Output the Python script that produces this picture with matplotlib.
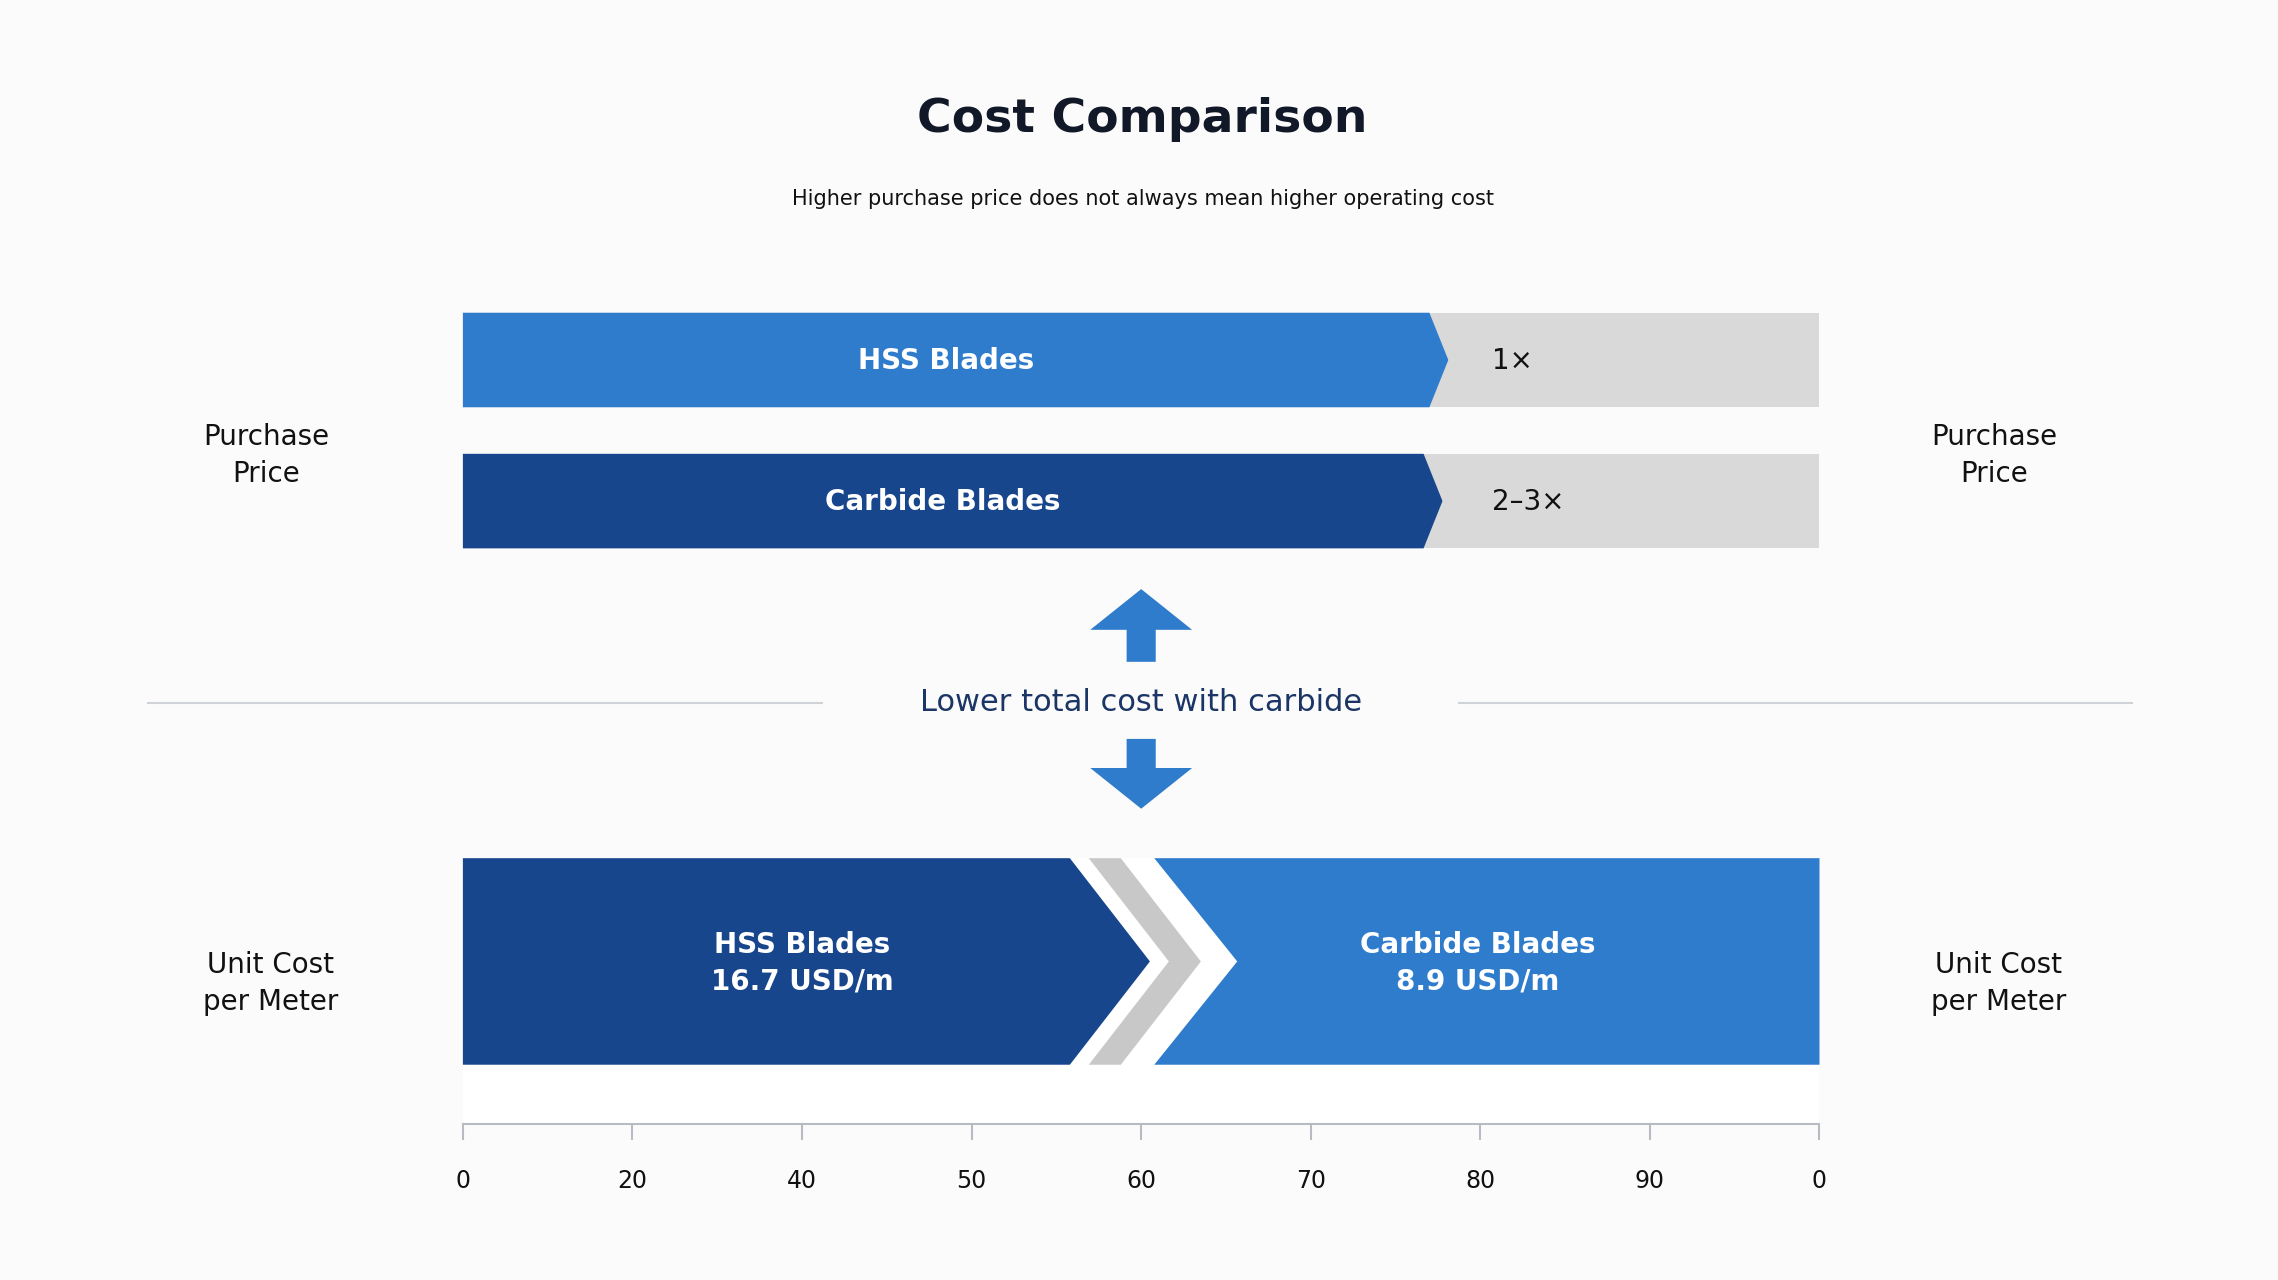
import matplotlib.pyplot as plt
from matplotlib.patches import Polygon, FancyArrow

# data
blades = ["HSS Blades", "Carbide Blades"]
price_mult = ["1×", "2–3×"]
unit_cost = [16.7, 8.9]
tick_labels = ["0", "20", "40", "50", "60", "70", "80", "90", "0"]

LIGHT = "#2f7ccc"
DARK = "#17468c"
GRAY = "#d9d9d9"
NAVY = "#1b3566"

W, H = 1565, 880
fig = plt.figure(figsize=(22.78, 12.8), dpi=100)
fig.patch.set_facecolor("#fbfbfb")
ax = fig.add_axes([0, 0, 1, 1])
ax.set_xlim(0, W)
ax.set_ylim(H, 0)
ax.axis("off")

def poly(pts, c):
    ax.add_patch(Polygon(pts, closed=True, facecolor=c, edgecolor="none"))

ax.text(785, 82, "Cost Comparison", ha="center", va="center", fontsize=34, weight="bold", color="#111827")
ax.text(785, 137, "Higher purchase price does not always mean higher operating cost",
        ha="center", va="center", fontsize=15, color="#111")

x0, x1 = 318, 1250
# purchase price bars
tops = [215, 312]
ends = [982, 978]
for top, end, name, mult, c in zip(tops, ends, blades, price_mult, [LIGHT, DARK]):
    bot = top + 65
    poly([(x0, top), (x1, top), (x1, bot), (x0, bot)], GRAY)
    poly([(x0, top), (end, top), (end + 13, top + 32.5), (end, bot), (x0, bot)], c)
    ax.text((x0 + end) / 2, top + 33, name, ha="center", va="center", fontsize=20,
            weight="bold", color="white")
    ax.text(1025, top + 33, mult, ha="left", va="center", fontsize=20, color="#111")

for x in (183, 1370):
    ax.text(x, 313, "Purchase\nPrice", ha="center", va="center", fontsize=20,
            color="#111", linespacing=1.4)
    ax.text(x + 3, 676, "Unit Cost\nper Meter", ha="center", va="center", fontsize=20,
            color="#111", linespacing=1.4)

# middle arrows and message
ax.add_patch(FancyArrow(784, 455, 0, -50, width=20, head_width=70, head_length=28,
                        length_includes_head=True, color=LIGHT, lw=0))
ax.add_patch(FancyArrow(784, 508, 0, 48, width=20, head_width=70, head_length=28,
                        length_includes_head=True, color=LIGHT, lw=0))
ax.text(784, 483, "Lower total cost with carbide", ha="center", va="center",
        fontsize=22, color=NAVY)
ax.plot([102, 565], [483, 483], color="#cfd3d8", lw=1.5)
ax.plot([1002, 1465], [483, 483], color="#cfd3d8", lw=1.5)

# unit cost bar
top, bot = 590, 732
mid = (top + bot) / 2
poly([(x0, top), (x1, top), (x1, 772), (x0, 772)], "white")
poly([(x0, top), (735, top), (790, mid), (735, bot), (x0, bot)], DARK)
poly([(748, top), (770, top), (825, mid), (770, bot), (748, bot), (803, mid)], "#c8c8c8")
poly([(793, top), (x1, top), (x1, bot), (793, bot), (850, mid)], LIGHT)
ax.text(551, 662, f"{blades[0]}\n{unit_cost[0]} USD/m", ha="center", va="center",
        fontsize=20, weight="bold", color="white", linespacing=1.4)
ax.text(1015, 662, f"{blades[1]}\n{unit_cost[1]} USD/m", ha="center", va="center",
        fontsize=20, weight="bold", color="white", linespacing=1.4)

# axis
ax.plot([x0, x1], [773, 773], color="#b8bcc2", lw=1.5)
step = (x1 - x0) / (len(tick_labels) - 1)
for i, lab in enumerate(tick_labels):
    x = x0 + i * step
    ax.plot([x, x], [773, 783], color="#b8bcc2", lw=1.5)
    ax.text(x, 812, lab, ha="center", va="center", fontsize=17, color="#111")

fig.savefig("out.png", dpi=100, facecolor=fig.get_facecolor())
